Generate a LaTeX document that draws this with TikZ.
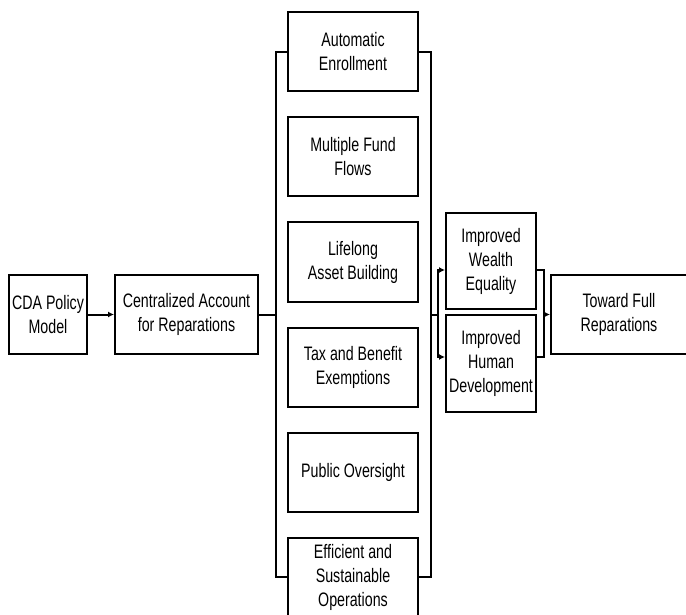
\documentclass[tikz,border=0pt]{standalone}
\usepackage{fontspec}
\setmainfont[FakeStretch=0.73]{Liberation Sans}
\usetikzlibrary{arrows.meta, positioning}

\tikzset{
  box/.style={draw, line width=2pt, align=center, inner sep=2pt,
    font=\fontsize{19.5}{24}\selectfont},
  link/.style={line width=2pt},
  arr/.style={line width=2pt, -{Latex[length=6pt,width=6pt]}},
}

\begin{document}
\begin{tikzpicture}[x=1pt, y=-1pt]
        \useasboundingbox (0,0) rectangle (686,615);

        % 起点
        \node[box, minimum width=78, minimum height=79] (cda) at (48,314.5) {CDA Policy\\Model};
        \node[box, minimum width=143, minimum height=79] (central) at (186.5,314.5) {Centralized Account\\for Reparations};
        \draw[arr] (cda) -- (central);

        % 六个特征
        \foreach \name/\y/\txt in {enroll/52/{Automatic\\Enrollment},
                                   flows/157/{Multiple Fund\\Flows},
                                   asset/262/{Lifelong\\Asset Building},
                                   tax/367/{Tax and Benefit\\Exemptions},
                                   oversight/472/{Public Oversight},
                                   ops/577/{Efficient and\\Sustainable\\Operations}} {
            \node[box, minimum width=130, minimum height=79] (\name) at (353,\y) {\txt};
        }

        % 分叉
        \coordinate (forkL) at (276,314.5);
        \coordinate (forkR) at (431,314.5);
        \draw[link] (central) -- (forkL);
        \draw[link] (enroll.west) -| (forkL) |- (ops.west);
        \draw[link] (enroll.east) -| (forkR) |- (ops.east);

        % 结果
        \node[box, minimum width=90, minimum height=96] (wealth) at (491,261) {Improved\\Wealth\\Equality};
        \node[box, minimum width=90, minimum height=97] (human) at (491,363.5) {Improved\\Human\\Development};
        \coordinate (split) at (437.5,314.5);
        \draw[link] (forkR) -- (split);
        \draw[arr] (split) |- ([yshift=-9pt]wealth.west);
        \draw[arr] (split) |- ([yshift=6.5pt]human.west);

        % 终点
        \node[box, minimum width=136, minimum height=79] (toward) at (619,314.5) {Toward Full\\Reparations};
        \coordinate (join) at (544,314.5);
        \draw[link] ([yshift=-9pt]wealth.east) -| (join) |- ([yshift=6.5pt]human.east);
        \draw[arr] (join) -- (toward);

    \end{tikzpicture}
\end{document}
